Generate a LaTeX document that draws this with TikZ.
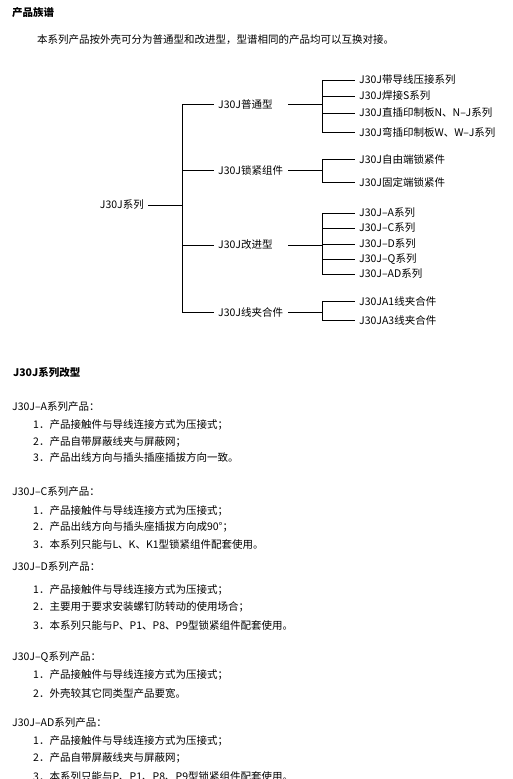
\documentclass[tikz,border=0pt]{standalone}
\usepackage{fontspec}
\setmainfont{Noto Sans CJK SC}
\begin{document}
\begin{tikzpicture}[x=1pt,y=-1pt,
  every node/.style={inner sep=0pt, font=\fontsize{10.5}{12}\selectfont},
  txt/.style={anchor=west},
  hd/.style={anchor=west, font=\fontsize{10.5}{12}\selectfont\bfseries},
  lvl/.style={anchor=west, inner xsep=4pt, text width=66pt, align=left},
  leaf/.style={anchor=west, inner xsep=4pt},
  conn/.style={line width=0.9pt}]
\fill[white] (0,0) rectangle (512,779);
\useasboundingbox (0,0) rectangle (512,779);

% headings
\node[hd] (title) at (12,13) {产品族谱};
\node[txt] (intro) at (37,40) {本系列产品按外壳可分为普通型和改进型，型谱相同的产品均可以互换对接。};

% tree
\node[leaf, anchor=east] (root) at (148,205) {J30J系列};
\coordinate (t) at (182,205);
\node[lvl] (b1) at (214,104) {J30J普通型};
\node[lvl] (b2) at (214,170) {J30J锁紧组件};
\node[lvl] (b3) at (214,245) {J30J改进型};
\node[lvl] (b4) at (214,312) {J30J线夹合件};
\draw[conn] (root.east) -- (t);
\foreach \b in {b1,b2,b3,b4} \draw[conn] (t) |- (\b.west);

\coordinate (j1) at (322,104);
\coordinate (j2) at (322,170);
\coordinate (j3) at (322,245);
\coordinate (j4) at (322,312);
\foreach \i in {1,2,3,4} \draw[conn] (b\i.east) -- (j\i);

\node[leaf] (a1) at (355,80) {J30J带导线压接系列};
\node[leaf] (a2) at (355,96) {J30J焊接S系列};
\node[leaf] (a3) at (355,113) {J30J直插印制板N、N–J系列};
\node[leaf] (a4) at (355,132) {J30J弯插印制板W、W–J系列};
\foreach \a in {a1,a2,a3,a4} \draw[conn] (j1) |- (\a.west);

\node[leaf] (c1) at (355,159) {J30J自由端锁紧件};
\node[leaf] (c2) at (355,182) {J30J固定端锁紧件};
\foreach \a in {c1,c2} \draw[conn] (j2) |- (\a.west);

\node[leaf] (d1) at (355,213) {J30J–A系列};
\node[leaf] (d2) at (355,228) {J30J–C系列};
\node[leaf] (d3) at (355,244) {J30J–D系列};
\node[leaf] (d4) at (355,259) {J30J–Q系列};
\node[leaf] (d5) at (355,274) {J30J–AD系列};
\foreach \a in {d1,d2,d3,d4,d5} \draw[conn] (j3) |- (\a.west);

\node[leaf] (e1) at (355,301) {J30JA1线夹合件};
\node[leaf] (e2) at (355,320) {J30JA3线夹合件};
\foreach \a in {e1,e2} \draw[conn] (j4) |- (\a.west);

% body
\node[hd] (sec) at (13,373) {J30J系列改型};

\node[txt] (ah) at (12,407) {J30J–A系列产品：};
\node[txt] (a1t) at (33,425) {1．产品接触件与导线连接方式为压接式；};
\node[txt] (a2t) at (33,442) {2．产品自带屏蔽线夹与屏蔽网；};
\node[txt] (a3t) at (33,458) {3．产品出线方向与插头插座插拔方向一致。};

\node[txt] (ch) at (12,492) {J30J–C系列产品：};
\node[txt] (c1t) at (33,511) {1．产品接触件与导线连接方式为压接式；};
\node[txt] (c2t) at (33,527) {2．产品出线方向与插头座插拔方向成90°；};
\node[txt] (c3t) at (33,544) {3．本系列只能与L、K、K1型锁紧组件配套使用。};

\node[txt] (dh) at (12,567) {J30J–D系列产品：};
\node[txt] (d1t) at (33,590) {1．产品接触件与导线连接方式为压接式；};
\node[txt] (d2t) at (33,607) {2．主要用于要求安装螺钉防转动的使用场合；};
\node[txt] (d3t) at (33,625) {3．本系列只能与P、P1、P8、P9型锁紧组件配套使用。};

\node[txt] (qh) at (12,657) {J30J–Q系列产品：};
\node[txt] (q1t) at (33,675) {1．产品接触件与导线连接方式为压接式；};
\node[txt] (q2t) at (33,694) {2．外壳较其它同类型产品要宽。};

\node[txt] (adh) at (12,723) {J30J–AD系列产品：};
\node[txt] (ad1t) at (33,741) {1．产品接触件与导线连接方式为压接式；};
\node[txt] (ad2t) at (33,758) {2．产品自带屏蔽线夹与屏蔽网；};
\node[txt] (ad3t) at (33,776) {3．本系列只能与P、P1、P8、P9型锁紧组件配套使用。};
\end{tikzpicture}
\end{document}
